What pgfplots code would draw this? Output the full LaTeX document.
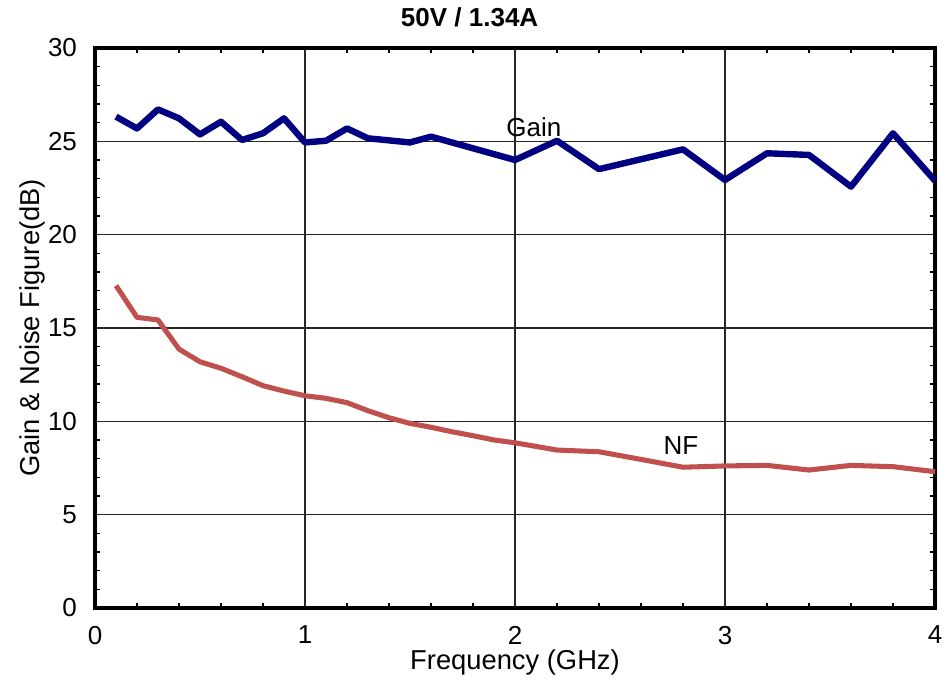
\documentclass[border=0pt]{standalone}
\usepackage{pgfplots}
\pgfplotsset{compat=1.18}
\usepackage{fontspec}
\setmainfont{Liberation Sans}
\definecolor{gainblue}{RGB}{0,0,128}
\definecolor{nfred}{RGB}{192,80,77}
\newcommand{\lbl}{\fontsize{19.5}{23}\selectfont}

\begin{document}
\begin{tikzpicture}
\begin{axis}[
  scale only axis,
  width=630pt, height=420pt,
  xmin=0, xmax=4, ymin=0, ymax=30,
  xtick={0,1,2,3,4}, ytick={0,5,10,15,20,25,30},
  minor x tick num=4, minor y tick num=4,
  tick align=inside,
  major tick length=0pt, minor tick length=4pt,
  every minor tick/.style={line width=1pt, black},
  grid=major,
  major grid style={line width=0.9pt, black!85},
  axis line style={line width=3pt},
  tick label style={font=\lbl},
  /pgf/number format/assume math mode=true,
  xticklabel style={yshift=-10pt},
  yticklabel style={xshift=-10pt},
  xlabel={Frequency (GHz)},
  ylabel={Gain \& Noise Figure(dB)},
  label style={font=\fontsize{20.5}{24}\selectfont},
  xlabel style={at={(rel axis cs:0.5,-0.0964)}, anchor=center},
  ylabel style={yshift=-5pt},
  clip=false,
]
\addplot[gainblue, line width=4.8pt, line join=round] coordinates {
  (0.1,26.32) (0.2,25.69) (0.3,26.71) (0.4,26.23) (0.5,25.37)
  (0.6,26.05) (0.7,25.07) (0.8,25.43) (0.9,26.23) (1.0,24.94)
  (1.1,25.03) (1.2,25.69) (1.3,25.16) (1.4,25.05) (1.5,24.94)
  (1.6,25.25) (2.0,24.00) (2.2,25.03) (2.4,23.51) (2.8,24.57)
  (3.0,22.93) (3.2,24.36) (3.4,24.27) (3.6,22.57) (3.8,25.43)
  (4.0,22.89)
};
\addplot[nfred, line width=3.8pt, line join=round] coordinates {
  (0.1,17.27) (0.2,15.57) (0.3,15.43) (0.4,13.87) (0.5,13.19)
  (0.6,12.84) (0.7,12.39) (0.8,11.91) (0.9,11.62) (1.0,11.37)
  (1.1,11.23) (1.2,11.00) (1.3,10.57) (1.4,10.19) (1.5,9.89)
  (1.6,9.68) (1.7,9.44) (1.8,9.23) (1.9,9.00) (2.0,8.85)
  (2.2,8.46) (2.4,8.37) (2.6,7.96) (2.8,7.54) (3.0,7.61)
  (3.2,7.64) (3.4,7.39) (3.6,7.64) (3.8,7.57) (4.0,7.30)
};
\node[font=\lbl] at (axis cs:2.09,25.75) {Gain};
\node[font=\lbl] at (axis cs:2.79,8.7) {NF};
\node[font=\lbl\bfseries] at (rel axis cs:0.446,1.054) {50V / 1.34A};
\coordinate (bl) at (rel axis cs:-0.1131,-0.1304);
\coordinate (tr) at (rel axis cs:1.0143,1.0857);
\end{axis}
\pgfresetboundingbox
\path[use as bounding box] (bl) rectangle (tr);
\end{tikzpicture}
\end{document}
